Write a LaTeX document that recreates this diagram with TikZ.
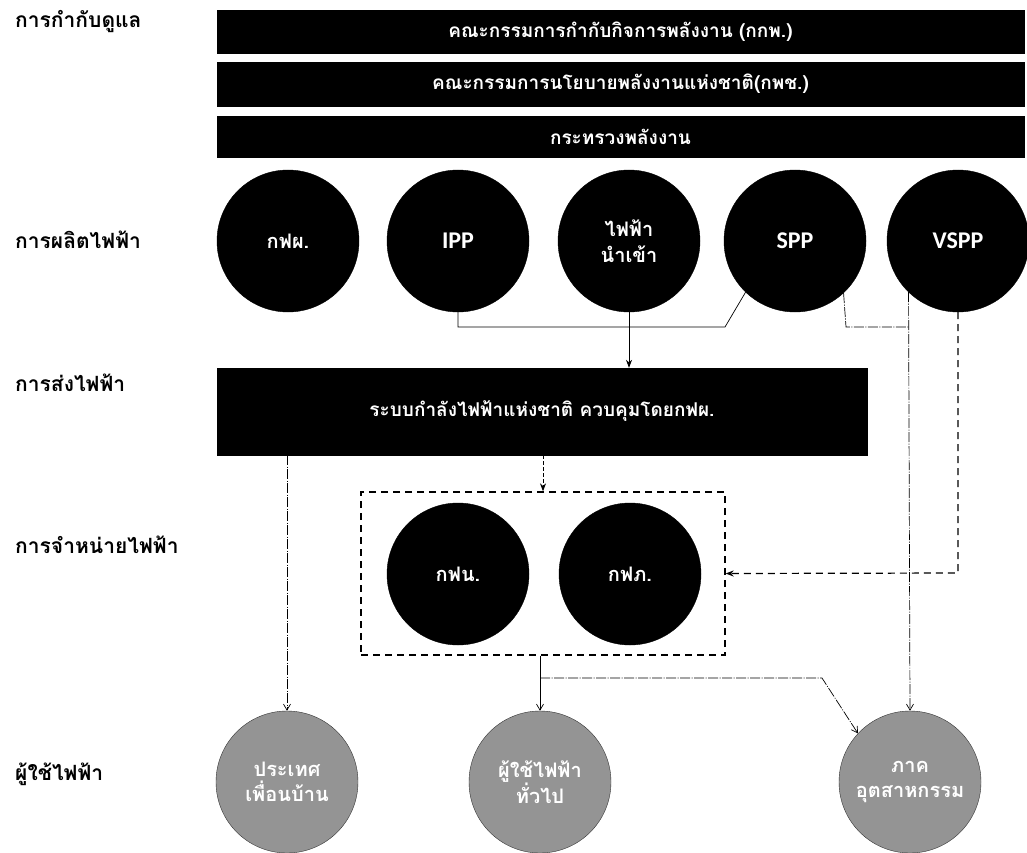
\documentclass[tikz,border=0pt]{standalone}
\usepackage{fontspec}
\setmainfont{Carlito}
\newfontfamily\thaifont[Script=Thai]{Loma}
\usetikzlibrary{arrows.meta,positioning,calc}
\begin{document}
\begin{tikzpicture}[x=1pt,y=-1pt,
  bar/.style={fill=black,draw=black,rectangle,inner sep=0pt},
  bartxt/.style={text=white,font=\thaifont\bfseries\fontsize{19}{21}\selectfont},
  dot/.style={circle,fill=black,draw=black,minimum size=142pt,inner sep=0pt,align=center,text=white},
  thtxt/.style={font=\thaifont\bfseries\fontsize{20}{26}\selectfont},
  latxt/.style={font=\bfseries\fontsize{24}{26}\selectfont},
  user/.style={circle,fill=black!42,draw=black!80,minimum size=142pt,inner sep=0pt,align=center,text=white,font=\thaifont\bfseries\fontsize{20}{25}\selectfont},
  lbl/.style={anchor=west,inner sep=0pt,font=\thaifont\bfseries\fontsize{21}{23}\selectfont},
  thin/.style={line width=0.7pt},
  dd/.style={line width=0.7pt,dash pattern=on 10pt off 1.5pt on 1pt off 1.5pt},
  dashbox/.style={draw=black,line width=1.3pt,dash pattern=on 7pt off 5pt},
  fillarrow/.style={-{Stealth[length=8pt,width=6pt]}},
  openarrow/.style={-{Straight Barb[length=6pt,width=7pt]}}
]
\useasboundingbox (0,0) rectangle (1027,853);

% left labels
\node[lbl] (l1) at (15,22) {การกำกับดูแล};
\node[lbl] (l2) at (15,240) {การผลิตไฟฟ้า};
\node[lbl] (l3) at (15,383) {การส่งไฟฟ้า};
\node[lbl] (l4) at (15,545) {การจำหน่ายไฟฟ้า};
\node[lbl] (l5) at (15,774) {ผู้ใช้ไฟฟ้า};

% regulation bars
\node[bar,minimum width=807pt,minimum height=43pt] (b1) at (620.5,31.5) {};
\node[bartxt] at (b1.center) {คณะกรรมการกำกับกิจการพลังงาน (กกพ.)};
\node[bar,minimum width=807pt,minimum height=44pt] (b2) at (620.5,84) {};
\node[bartxt] at (b2.center) {คณะกรรมการนโยบายพลังงานแห่งชาติ(กพช.)};
\node[bar,minimum width=807pt,minimum height=41pt] (b3) at (620.5,136.5) {};
\node[bartxt] at (b3.center) {กระทรวงพลังงาน};

% generation
\node[dot,thtxt] (egat) at (288,241) {กฟผ.};
\node[dot,latxt] (ipp) at (458,241) {IPP};
\node[dot,thtxt] (imp) at (629,241) {ไฟฟ้า\\นำเข้า};
\node[dot,latxt] (spp) at (795,241) {SPP};
\node[dot,latxt] (vspp) at (958,241) {VSPP};

% transmission
\node[bar,minimum width=650pt,minimum height=87pt] (tx) at (542,411.5) {};
\node[bartxt] at (tx.center) {ระบบกำลังไฟฟ้าแห่งชาติ ควบคุมโดยกฟผ.};

% distribution
\node[dashbox,rectangle,minimum width=364pt,minimum height=163pt] (dbox) at (543,573.5) {};
\node[dot,thtxt] (mea) at (458,574) {กฟน.};
\node[dot,thtxt] (pea) at (630,574) {กฟภ.};

% users
\node[user] (nb) at (287,782) {ประเทศ\\เพื่อนบ้าน};
\node[user] (gen) at (540,782) {ผู้ใช้ไฟฟ้า\\ทั่วไป};
\node[user] (ind) at (910,782) {ภาค\\อุตสาหกรรม};

% connectors
\coordinate (j1) at (458,327);
\coordinate (j2) at (725,327);
\draw[thin] (ipp.south) -- (j1) -- (j2) -- (spp.226);
\draw[thin,fillarrow] (imp.south) -- (tx.north -| imp.south);

\coordinate (j3) at (846,327);
\coordinate (j4) at (909,327);
\draw[dd] (spp.-47) -- (j3) -- (j4);
\draw[dd,openarrow] (vspp.226) -- (ind.north);

\coordinate (j5) at (958,573);
\draw[line width=1.2pt,dash pattern=on 7pt off 5pt,fillarrow] (vspp.south) -- (j5) -- (dbox.east);

\draw[line width=1pt,dash pattern=on 4pt off 2pt,fillarrow] (tx.south -| dbox.north) -- (dbox.north);

\draw[dd,openarrow] (tx.south -| nb.north) -- (nb.north);

\coordinate (j6) at (540,678);
\coordinate (j7) at (822,678);
\draw[thin,openarrow] (dbox.south -| gen.north) -- (gen.north);
\draw[dd,openarrow] (j6) -- (j7) -- (ind.137);
\end{tikzpicture}
\end{document}
